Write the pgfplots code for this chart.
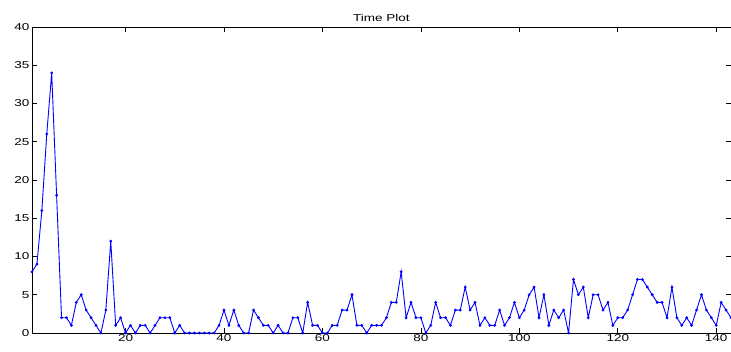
\documentclass[border=0pt]{standalone}
\usepackage{fontspec}
\setmainfont{Liberation Sans}
\newfontfamily\widefont[FakeStretch=1.35]{Liberation Sans}
\usepackage{pgfplots}
\pgfplotsset{compat=1.18}
\begin{document}
\begin{tikzpicture}
\begin{axis}[
  at={(0pt,0pt)}, anchor=south west,
  scale only axis, width=699pt, height=306pt,
  xmin=1, xmax=143, ymin=0, ymax=40,
  xtick={20,40,60,80,100,120,140},
  ytick={0,5,10,15,20,25,30,35,40},
  tick align=inside, major tick length=5pt,
  tick style={black, line width=0.6pt},
  axis line style={black, line width=0.8pt},
  /pgf/number format/assume math mode=true,
  ticklabel style={font=\widefont\fontsize{10}{12}\selectfont},
  yticklabel style={xshift=1pt},
  xticklabel style={yshift=2pt},
  title={Time Plot},
  title style={font=\widefont\fontsize{10}{12}\selectfont, yshift=-4pt},
  clip=true,
]
\addplot[blue, line width=0.9pt, mark=*, mark size=0.9pt] coordinates {
(1,8)(2,9)(3,16)(4,26)(5,34)(6,18)(7,2)(8,2)(9,1)(10,4)
(11,5)(12,3)(13,2)(14,1)(15,0)(16,3)(17,12)(18,1)(19,2)(20,0)
(21,1)(22,0)(23,1)(24,1)(25,0)(26,1)(27,2)(28,2)(29,2)(30,0)
(31,1)(32,0)(33,0)(34,0)(35,0)(36,0)(37,0)(38,0)(39,1)(40,3)
(41,1)(42,3)(43,1)(44,0)(45,0)(46,3)(47,2)(48,1)(49,1)(50,0)
(51,1)(52,0)(53,0)(54,2)(55,2)(56,0)(57,4)(58,1)(59,1)(60,0)
(61,0)(62,1)(63,1)(64,3)(65,3)(66,5)(67,1)(68,1)(69,0)(70,1)
(71,1)(72,1)(73,2)(74,4)(75,4)(76,8)(77,2)(78,4)(79,2)(80,2)
(81,0)(82,1)(83,4)(84,2)(85,2)(86,1)(87,3)(88,3)(89,6)(90,3)
(91,4)(92,1)(93,2)(94,1)(95,1)(96,3)(97,1)(98,2)(99,4)(100,2)
(101,3)(102,5)(103,6)(104,2)(105,5)(106,1)(107,3)(108,2)(109,3)(110,0)
(111,7)(112,5)(113,6)(114,2)(115,5)(116,5)(117,3)(118,4)(119,1)(120,2)
(121,2)(122,3)(123,5)(124,7)(125,7)(126,6)(127,5)(128,4)(129,4)(130,2)
(131,6)(132,2)(133,1)(134,2)(135,1)(136,3)(137,5)(138,3)(139,2)(140,1)
(141,4)(142,3)(143,2)
};
\end{axis}
\pgfresetboundingbox
\path[use as bounding box] (-32pt,-18pt) rectangle (699pt,333pt);
\end{tikzpicture}
\end{document}
